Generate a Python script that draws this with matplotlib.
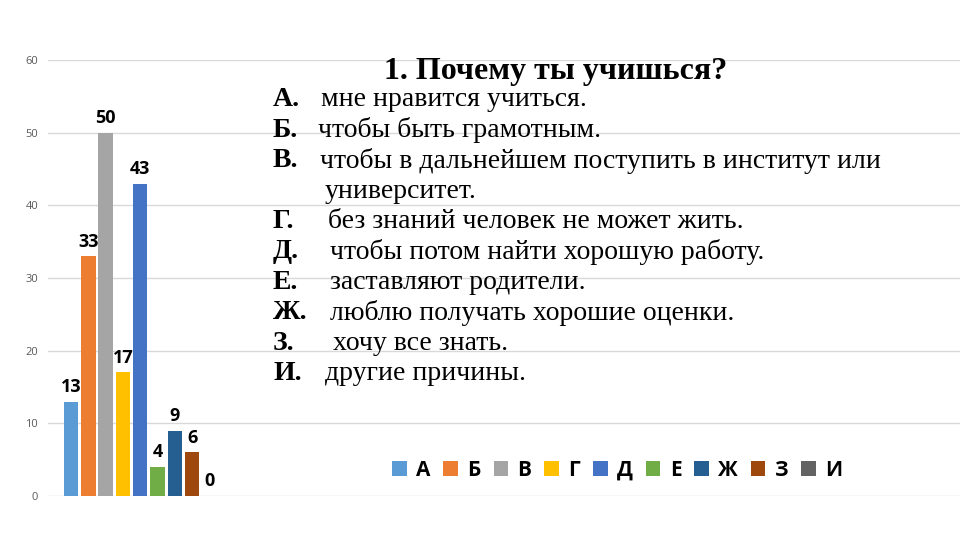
import matplotlib
matplotlib.use("Agg")
import matplotlib.pyplot as plt
from matplotlib.patches import Patch

categories = ["А", "Б", "В", "Г", "Д", "Е", "Ж", "З", "И"]
values = [13, 33, 50, 17, 43, 4, 9, 6, 0]
colors = ["#5B9BD5", "#ED7D31", "#A5A5A5", "#FFC000", "#4472C4",
          "#70AD47", "#255E91", "#9E480E", "#636363"]
yticks = [0, 10, 20, 30, 40, 50, 60]

title = "1. Почему ты учишься?"
answer_letters = ["А.", "Б.", "В.", "", "Г.", "Д.", "Е.", "Ж.", "З.", "И."]
answer_texts = ["мне нравится учиться.", "чтобы быть грамотным.",
                "чтобы в дальнейшем поступить в институт или",
                "университет.", "без знаний человек не может жить.",
                "чтобы потом найти хорошую работу.", "заставляют родители.",
                "люблю получать хорошие оценки.", "хочу все знать.",
                "другие причины."]
text_x = [321, 318, 320, 325, 328, 330, 330, 330, 333, 325]

W, H = 960, 540
fig = plt.figure(figsize=(9.6, 5.4), dpi=100)
ax = fig.add_axes([48 / W, 1 - 496 / H, (960 - 48) / W, (496 - 60) / H])

xs = list(range(len(categories)))
for x, v, c, cat in zip(xs, values, colors, categories):
    ax.bar(x, v, width=0.84, color=c, label=cat, zorder=2)
    ax.annotate(str(v), (x, v), xytext=(0, 4), textcoords="offset points",
                ha="center", va="bottom", fontsize=13, fontweight="bold",
                family=["Open Sans", "DejaVu Sans"], color="black")

step = 17.3
ax.set_xlim(-23 / step, (960 - 71) / step)
ax.set_ylim(0, 60)
ax.set_yticks(yticks)
ax.set_xticks([])
ax.grid(axis="y", color="#d9d9d9", linewidth=1.0, zorder=0)
for s in ax.spines.values():
    s.set_visible(False)
ax.tick_params(axis="y", length=0, pad=7, labelsize=8, labelcolor="#595959")
for lab in ax.get_yticklabels():
    lab.set_family(["Open Sans", "DejaVu Sans"])

# title and answer list
fig.text(556 / W, 1 - 71 / H, title, ha="center", va="center",
         fontsize=23, fontweight="bold", family=["Liberation Serif", "DejaVu Serif"])
y0 = 100
dy = 30.4
for i, (let, txt, tx) in enumerate(zip(answer_letters, answer_texts, text_x)):
    y = y0 + i * dy
    if let:
        fig.text(273 / W, 1 - y / H, let, ha="left", va="center",
                 fontsize=20, fontweight="bold",
                 family=["Liberation Serif", "DejaVu Serif"])
    fig.text(tx / W, 1 - y / H, txt, ha="left", va="center", fontsize=20,
             family=["Liberation Serif", "DejaVu Serif"])

handles = [Patch(facecolor=c, label=cat) for c, cat in zip(colors, categories)]
leg = fig.legend(handles=handles, loc="center left", ncol=9,
                 bbox_to_anchor=(392 / W, 1 - 470 / H), frameon=False,
                 borderpad=0, borderaxespad=0, handlelength=0.7, handleheight=0.7,
                 handletextpad=0.45, columnspacing=0.62,
                 prop={"family": ["Open Sans", "DejaVu Sans"], "weight": "bold", "size": 15})

fig.savefig("out.png", dpi=100)
